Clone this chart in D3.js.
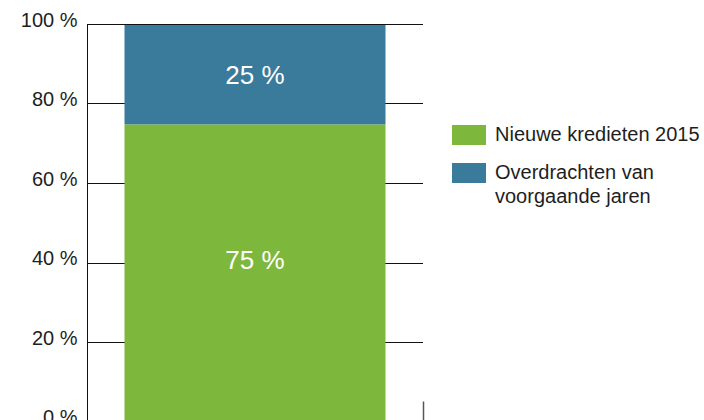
<!DOCTYPE html>
<meta charset="utf-8">
<title>Kredieten 2015</title>
<style>
body { margin: 0; background: #fff; }
svg text { font-family: "Liberation Sans", Arial, sans-serif; fill: #1e1e1e; }
.grid line { stroke: #111; stroke-width: 1px; }
.axis line { stroke: #111; }
</style>
<svg width="704" height="420"></svg>
<script src="https://d3js.org/d3.v7.min.js"></script>
<script>
// data
var category = ['2015']
var seriesNames = ['Nieuwe kredieten 2015', 'Overdrachten van voorgaande jaren']
var seriesValues = [75, 25]
var seriesColors = ['#7db83d', '#3a7a9a']
var labelAt = [41, 87.5]   // where the % label sits inside each segment
var yTicks = [0, 20, 40, 60, 80, 100]
var legendLines = [['Nieuwe kredieten 2015'], ['Overdrachten van', 'voorgaande jaren']]

var svg = d3.select('svg')

var x = d3.scaleBand().domain(category).range([87, 423]).paddingInner(0).paddingOuter(0.1437)
var y = d3.scaleLinear().domain([0, 100]).range([422.5, 25])

function crisp(v) { return Math.round(v) + 0.5 }

// gridlines (behind the bar)
svg.append('g').attr('class', 'grid')
	.selectAll('line')
	.data(yTicks.filter(function(t) { return t > 0 }))
	.enter().append('line')
		.attr('x1', 87).attr('x2', 423)
		.attr('y1', function(d) { return crisp(y(d)) - 1 })
		.attr('y2', function(d) { return crisp(y(d)) - 1 })

// stacked segments
var stacked = []
var acc = 0
for (var i = 0; i < seriesValues.length; i++) {
	stacked.push({ y0: acc, y1: acc + seriesValues[i], color: seriesColors[i], label: seriesValues[i] + ' %', at: labelAt[i] })
	acc += seriesValues[i]
}

svg.append('g').selectAll('rect')
	.data(stacked)
	.enter().append('rect')
		.attr('x', x('2015'))
		.attr('width', x.bandwidth())
		.attr('y', function(d) { return y(d.y1) })
		.attr('height', function(d) { return y(d.y0) - y(d.y1) })
		.attr('fill', function(d) { return d.color })

svg.append('g').selectAll('text')
	.data(stacked)
	.enter().append('text')
		.attr('x', x('2015') + x.bandwidth() / 2)
		.attr('y', function(d) { return y(d.at) + 9.5 })
		.attr('text-anchor', 'middle')
		.style('font-size', '26px')
		.style('fill', '#fff')
		.text(function(d) { return d.label })

// y axis
var yAxis = d3.axisLeft(y).tickValues(yTicks).tickSize(0).tickPadding(10)
	.tickFormat(function(d) { return d + ' %' })
var gy = svg.append('g').attr('class', 'axis').attr('transform', 'translate(87.5,0)').call(yAxis)
gy.select('.domain').remove()
gy.selectAll('text')
	.style('font-size', '20px')
	.attr('dy', '0.05em')
gy.append('line')
	.attr('x1', 0).attr('x2', 0)
	.attr('y1', y(100) - 0.5).attr('y2', y(0))
	.attr('stroke', '#111')

// category boundary tick at the right
svg.append('line')
	.attr('x1', 423.5).attr('x2', 423.5)
	.attr('y1', y(0) - 21).attr('y2', y(0))
	.attr('stroke', '#555')
	.attr('stroke-width', 1.5)

// legend
var legend = svg.append('g').attr('transform', 'translate(452,125)')
var item = legend.selectAll('g')
	.data(seriesNames)
	.enter().append('g')
		.attr('transform', function(d, i) { return 'translate(0,' + (i * 38) + ')' })

item.append('rect')
	.attr('width', 34).attr('height', 20)
	.attr('fill', function(d, i) { return seriesColors[i] })

item.append('text')
	.attr('x', 43)
	.attr('y', 16)
	.style('font-size', '20px')
	.selectAll('tspan')
	.data(function(d, i) { return legendLines[i] })
	.enter().append('tspan')
		.attr('x', 43)
		.attr('dy', function(d, j) { return j === 0 ? 0 : 24 })
		.text(function(d) { return d })
</script>
